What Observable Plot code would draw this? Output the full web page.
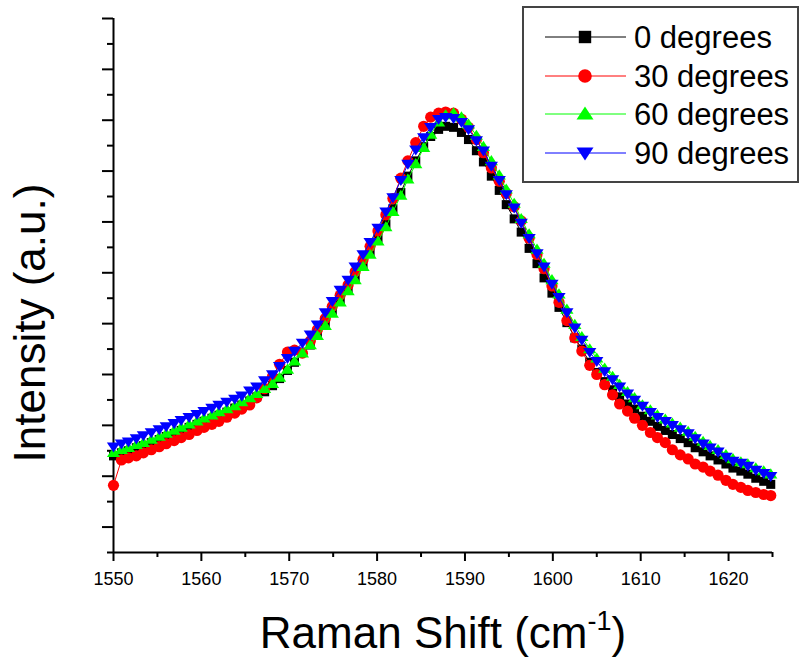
<!DOCTYPE html>
<html>
<head>
<meta charset="utf-8">
<script src="https://cdn.jsdelivr.net/npm/d3@7"></script>
<script src="https://cdn.jsdelivr.net/npm/@observablehq/plot@0.6"></script>
<style>
  html, body { margin: 0; padding: 0; background: #fff; }
  svg { display: block; }
</style>
</head>
<body>
<script>
// Raman shift (cm^-1)
const shift = [1550.0,1550.9,1551.7,1552.6,1553.4,1554.3,1555.2,1556.0,1556.9,1557.7,1558.6,1559.5,1560.3,1561.2,1562.0,1562.9,1563.8,1564.6,1565.5,1566.3,1567.2,1568.1,1568.9,1569.8,1570.6,1571.5,1572.4,1573.2,1574.1,1574.9,1575.8,1576.7,1577.5,1578.4,1579.2,1580.1,1581.0,1581.8,1582.7,1583.5,1584.4,1585.3,1586.1,1587.0,1587.8,1588.7,1589.6,1590.4,1591.3,1592.1,1593.0,1593.9,1594.7,1595.6,1596.4,1597.3,1598.2,1599.0,1599.9,1600.7,1601.6,1602.5,1603.3,1604.2,1605.0,1605.9,1606.8,1607.6,1608.5,1609.3,1610.2,1611.1,1611.9,1612.8,1613.6,1614.5,1615.4,1616.2,1617.1,1617.9,1618.8,1619.7,1620.5,1621.4,1622.2,1623.1,1624.0,1624.8];

// Intensity (a.u.) for each polarisation angle
const deg0 = [95,98,100,103,105,108,111,114,117,120,123,126,129,132,135,138,142,145,149,153,158,164,171,179,187,197,204,214,225,236,248,259,270,283,295,309,323,338,354,370,385,399,409,416,419,418,413,406,395,384,370,356,342,328,315,299,284,270,255,241,226,211,200,187,177,168,160,153,146,141,134,129,124,120,116,112,108,103,99,95,91,87,83,80,77,73,70,67];
const deg30 = [66,91,93,95,98,101,104,107,110,113,116,120,123,126,129,133,137,141,145,152,161,173,185,197,199,196,208,219,230,242,253,263,276,288,301,316,332,348,368,385,403,419,428,432,433,432,426,418,406,393,378,365,353,340,326,309,293,279,262,246,228,211,198,184,175,165,155,146,139,132,125,118,113,108,101,96,92,87,84,80,76,71,67,64,61,59,57,56];
const deg60 = [98,101,103,106,108,111,114,117,120,123,126,129,132,135,138,141,144,148,152,156,161,166,172,180,188,196,204,213,223,235,246,257,268,281,293,306,320,335,351,367,382,398,411,423,430,432,428,421,410,399,385,371,357,343,328,313,298,284,268,254,239,224,212,200,191,181,173,165,158,152,145,140,135,131,127,123,119,114,109,105,101,96,92,89,87,83,80,77];
const deg90 = [104,107,109,112,115,118,121,124,127,130,133,136,139,142,145,148,151,154,159,163,169,175,183,191,198,206,214,224,236,247,258,268,281,293,305,319,335,349,366,382,396,408,418,426,428,427,423,416,405,395,380,366,352,339,324,309,294,281,264,251,236,221,209,197,188,178,170,163,156,150,144,138,133,129,125,121,117,112,107,103,99,94,90,88,85,81,78,75];

const seriesNames = ["0 degrees", "30 degrees", "60 degrees", "90 degrees"];
const seriesColors = ["#000000", "#ff0000", "#00ff00", "#0000ff"];

// axis ticks
const xMajor = [1550, 1560, 1570, 1580, 1590, 1600, 1610, 1620];
const xMinor = [1555, 1565, 1575, 1585, 1595, 1605, 1615, 1625];
const yMajor = [25, 75, 125, 175, 225, 275, 325, 375, 425, 475, 525];
const yMinor = [0, 50, 100, 150, 200, 250, 300, 350, 400, 450, 500];

// custom marker shapes
const triUp = {draw(ctx, size) { const s = Math.sqrt(size / Math.PI);
  ctx.moveTo(0, -1.1 * s); ctx.lineTo(1.25 * s, 0.8 * s); ctx.lineTo(-1.25 * s, 0.8 * s); ctx.closePath(); }};
const triDown = {draw(ctx, size) { const s = Math.sqrt(size / Math.PI);
  ctx.moveTo(0, 1.1 * s); ctx.lineTo(1.25 * s, -0.8 * s); ctx.lineTo(-1.25 * s, -0.8 * s); ctx.closePath(); }};
const symbols = ["square", "circle", triUp, triDown];
const radii = [5.1, 5.6, 5.3, 5.3];

const allSeries = [deg0, deg30, deg60, deg90];
const rows = allSeries.map(vals => shift.map((x, i) => ({x, y: vals[i]})));

const FONT = "'Liberation Sans', Arial, Helvetica, sans-serif";

const marks = [];
// axis lines
marks.push(Plot.ruleY([0], {stroke: "#000", strokeWidth: 2}));
marks.push(Plot.ruleX([1550], {stroke: "#000", strokeWidth: 2}));
// x ticks
marks.push(Plot.ruleX(xMajor, {x: d => d, y1: () => 0, y2: () => 0, insetBottom: -9, stroke: "#000", strokeWidth: 2}));
marks.push(Plot.ruleX(xMinor, {x: d => d, y1: () => 0, y2: () => 0, insetBottom: -5, stroke: "#000", strokeWidth: 2}));
// y ticks
marks.push(Plot.ruleY(yMajor, {y: d => d, x1: () => 1550, x2: () => 1550, insetLeft: -11, stroke: "#000", strokeWidth: 2}));
marks.push(Plot.ruleY(yMinor, {y: d => d, x1: () => 1550, x2: () => 1550, insetLeft: -6, stroke: "#000", strokeWidth: 2}));
// x tick labels
marks.push(Plot.text(xMajor, {x: d => d, y: () => 0, text: d => String(d), dy: 27, fontSize: 18, fill: "#000"}));
// series
rows.forEach((data, k) => {
  marks.push(Plot.line(data, {x: "x", y: "y", stroke: seriesColors[k], strokeWidth: 1}));
  marks.push(Plot.dot(data, {x: "x", y: "y", symbol: () => symbols[k], r: radii[k], fill: seriesColors[k], stroke: "none"}));
});

const chart = Plot.plot({
  width: 801,
  height: 662,
  marginLeft: 113,
  marginRight: 29,
  marginTop: 18,
  marginBottom: 110,
  x: {domain: [1550, 1625], axis: null},
  y: {domain: [0, 525], axis: null},
  symbol: {type: "identity"},
  style: {fontFamily: FONT, background: "#fff", color: "#000", overflow: "visible"},
  marks
});
document.body.appendChild(chart);

const svg = d3.select(chart);
// axis titles
svg.append("text")
  .attr("transform", "translate(45,323) rotate(-90)")
  .attr("text-anchor", "middle")
  .attr("font-family", FONT).attr("font-size", 44).attr("fill", "#000")
  .text("Intensity (a.u.)");
const xt = svg.append("text")
  .attr("x", 443).attr("y", 648)
  .attr("text-anchor", "middle")
  .attr("font-family", FONT).attr("font-size", 44).attr("fill", "#000");
xt.append("tspan").text("Raman Shift (cm");
xt.append("tspan").attr("dy", -18).attr("font-size", 27).text("-1");
xt.append("tspan").attr("dy", 18).text(")");

// legend
const lg = svg.append("g").attr("text-anchor", "start");
lg.append("rect").attr("x", 523).attr("y", 7).attr("width", 275).attr("height", 175)
  .attr("fill", "#fff").attr("stroke", "#444").attr("stroke-width", 2);
const rowY = [37, 76, 114, 153];
seriesNames.forEach((name, k) => {
  const y = rowY[k];
  lg.append("line").attr("x1", 545).attr("x2", 626).attr("y1", y).attr("y2", y)
    .attr("stroke", seriesColors[k]).attr("stroke-width", 1);
  const sym = k === 0 ? d3.symbolSquare : k === 1 ? d3.symbolCircle : symbols[k];
  const rr = [7, 6.8, 6.8, 6.8][k];
  lg.append("path").attr("transform", `translate(585,${y})`)
    .attr("d", d3.symbol(sym, Math.PI * rr * rr)()).attr("fill", seriesColors[k]);
  lg.append("text").attr("x", 634).attr("y", y + 11).attr("text-anchor", "start")
    .attr("font-family", FONT).attr("font-size", 31).attr("fill", "#000").text(name);
});
</script>
</body>
</html>
